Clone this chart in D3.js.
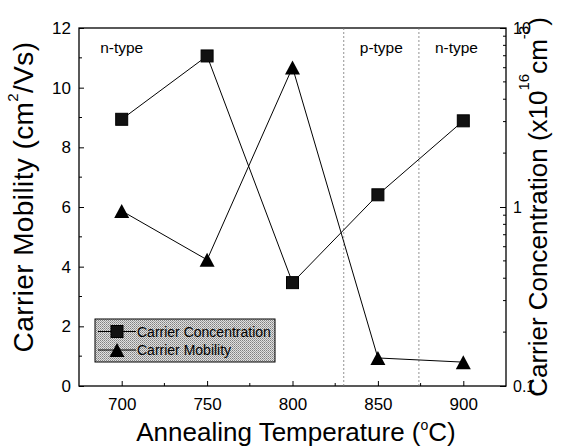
<!DOCTYPE html>
<html>
<head>
<meta charset="utf-8">
<script src="https://cdn.jsdelivr.net/npm/d3@7"></script>
<style>
  body { margin: 0; background: #fff; }
  svg { display: block; font-family: "Liberation Sans", Arial, sans-serif; }
</style>
</head>
<body>
<svg id="chart" width="583" height="447"></svg>
<script>
// data
const temps = [700, 750, 800, 850, 900]
const concentration = [3.09, 6.98, 0.378, 1.17, 3.03] // x10^16 cm^-3, right log axis
const mobility = [5.87, 4.23, 10.68, 0.94, 0.8] // cm2/Vs, left axis
const typeBounds = [830, 874]
const typeLabels = ['n-type', 'p-type', 'n-type']
const typeLabelAt = [700, 852, 896]
const xTicks = [700, 750, 800, 850, 900]
const xMinor = [725, 775, 825, 875]
const yTicks = [0, 2, 4, 6, 8, 10, 12]
const yMinor = [1, 3, 5, 7, 9, 11]
const rTicks = [0.1, 1, 10]
const rMinor = [0.2, 0.3, 0.4, 0.5, 0.6, 0.7, 0.8, 0.9, 2, 3, 4, 5, 6, 7, 8, 9]

const pL = 79, pR = 506, pT = 28, pB = 386

const svg = d3.select('#chart')

const x = d3.scaleLinear().domain([675, 925]).range([pL, pR])
const y = d3.scaleLinear().domain([0, 12]).range([pB, pT])
const yR = d3.scaleLog().domain([0.1, 10]).range([pB, pT])

// halftone pattern for legend
const defs = svg.append('defs')
const pat = defs.append('pattern')
  .attr('id', 'dots')
  .attr('width', 2).attr('height', 2)
  .attr('patternUnits', 'userSpaceOnUse')
pat.append('rect').attr('width', 2).attr('height', 2).attr('fill', '#e0e0e0')
pat.append('rect').attr('width', 1).attr('height', 1).attr('fill', '#808080')
pat.append('rect').attr('x', 1).attr('y', 1).attr('width', 1).attr('height', 1).attr('fill', '#a0a0a0')

// axes
const gL = svg.append('g')
  .attr('transform', `translate(${pL},0)`)
  .call(d3.axisLeft(y).tickValues(yTicks).tickSize(-5).tickSizeOuter(0).tickPadding(8))
const gB = svg.append('g')
  .attr('transform', `translate(0,${pB})`)
  .call(d3.axisBottom(x).tickValues(xTicks).tickSize(-5).tickSizeOuter(0).tickPadding(12))
const gR = svg.append('g')
  .attr('transform', `translate(${pR},0)`)
  .call(d3.axisRight(yR).tickValues(rTicks).tickFormat(d3.format('~g')).tickSize(-6).tickSizeOuter(0).tickPadding(7))

;[gL, gB, gR].forEach(g => {
  g.select('.domain').remove()
  g.selectAll('text').attr('font-size', 17).attr('fill', '#000')
  g.selectAll('line').attr('stroke', '#000')
})
gR.selectAll('text').attr('font-size', 16)

// minor ticks
svg.append('g').selectAll('line').data(yMinor).join('line')
  .attr('x1', pL).attr('x2', pL + 3)
  .attr('y1', d => y(d)).attr('y2', d => y(d))
  .attr('stroke', '#000')
svg.append('g').selectAll('line').data(xMinor).join('line')
  .attr('x1', d => x(d)).attr('x2', d => x(d))
  .attr('y1', pB).attr('y2', pB - 3)
  .attr('stroke', '#000')
svg.append('g').selectAll('line').data(rMinor).join('line')
  .attr('x1', pR).attr('x2', pR - 3)
  .attr('y1', d => yR(d)).attr('y2', d => yR(d))
  .attr('stroke', '#000')

// frame
svg.append('rect')
  .attr('x', pL).attr('y', pT)
  .attr('width', pR - pL).attr('height', pB - pT)
  .attr('fill', 'none').attr('stroke', '#000').attr('stroke-width', 1.3)

// type boundaries
svg.append('g').selectAll('line').data(typeBounds).join('line')
  .attr('x1', d => x(d)).attr('x2', d => x(d))
  .attr('y1', pT).attr('y2', pB)
  .attr('stroke', '#777').attr('stroke-width', 0.8)
  .attr('stroke-dasharray', '2,2')

// region labels
svg.append('g').selectAll('text').data(typeLabels).join('text')
  .attr('x', (d, i) => x(typeLabelAt[i]))
  .attr('y', pT + 25)
  .attr('text-anchor', 'middle')
  .attr('font-size', 15.5)
  .text(d => d)

// lines
const concLine = d3.line().x((d, i) => x(temps[i])).y(d => yR(d))
const mobLine = d3.line().x((d, i) => x(temps[i])).y(d => y(d))

svg.append('path').datum(concentration)
  .attr('d', concLine).attr('fill', 'none').attr('stroke', '#000').attr('stroke-width', 1)
svg.append('path').datum(mobility)
  .attr('d', mobLine).attr('fill', 'none').attr('stroke', '#000').attr('stroke-width', 1)

const triPath = 'M0,-7L7.5,7L-7.5,7Z'

svg.append('g').selectAll('rect').data(concentration).join('rect')
  .attr('x', (d, i) => x(temps[i]) - 6)
  .attr('y', d => yR(d) - 6)
  .attr('width', 12).attr('height', 12)
  .attr('fill', '#111').attr('stroke', '#000')

svg.append('g').selectAll('path').data(mobility).join('path')
  .attr('d', triPath)
  .attr('transform', (d, i) => `translate(${x(temps[i])},${y(d)})`)
  .attr('fill', '#000')

// legend
const leg = svg.append('g')
leg.append('rect')
  .attr('x', 95).attr('y', 319).attr('width', 180).attr('height', 43)
  .attr('fill', 'url(#dots)').attr('stroke', '#000').attr('stroke-width', 1)
const legItems = ['Carrier Concentration', 'Carrier Mobility']
legItems.forEach((name, i) => {
  const cy = 331.5 + i * 18.5
  leg.append('line').attr('x1', 98).attr('x2', 136).attr('y1', cy).attr('y2', cy)
    .attr('stroke', '#000').attr('stroke-width', 1.2)
  if (i === 0) {
    leg.append('rect').attr('x', 111).attr('y', cy - 6).attr('width', 12).attr('height', 12)
      .attr('fill', '#111').attr('stroke', '#000')
  } else {
    leg.append('path').attr('d', triPath).attr('transform', `translate(117,${cy})`).attr('fill', '#000')
  }
  leg.append('text').attr('x', 137).attr('y', cy + 5).attr('font-size', 14).text(name)
})

// axis titles
const tL = svg.append('text')
  .attr('transform', 'translate(33,197) rotate(-90)')
  .attr('text-anchor', 'middle').attr('font-size', 28).attr('letter-spacing', 0.4)
tL.append('tspan').text('Carrier Mobility (cm')
tL.append('tspan').attr('dy', -15).attr('font-size', 15).text('2')
tL.append('tspan').attr('dy', 15).text('/Vs)')

const tR = svg.append('text')
  .attr('transform', 'translate(547,207) rotate(-90)')
  .attr('text-anchor', 'middle').attr('font-size', 26)
tR.append('tspan').text('Carrier Concentration (x10')
tR.append('tspan').attr('dy', -18).attr('font-size', 15).text('16')
tR.append('tspan').attr('dy', 18).text('cm')
tR.append('tspan').attr('dy', -18).attr('font-size', 15).text('-3')
tR.append('tspan').attr('dy', 18).text(')')

const tB = svg.append('text')
  .attr('x', 296).attr('y', 441)
  .attr('text-anchor', 'middle').attr('font-size', 26)
tB.append('tspan').text('Annealing Temperature (')
tB.append('tspan').attr('dy', -11).attr('font-size', 14).text('o')
tB.append('tspan').attr('dy', 11).text('C)')
</script>
</body>
</html>
